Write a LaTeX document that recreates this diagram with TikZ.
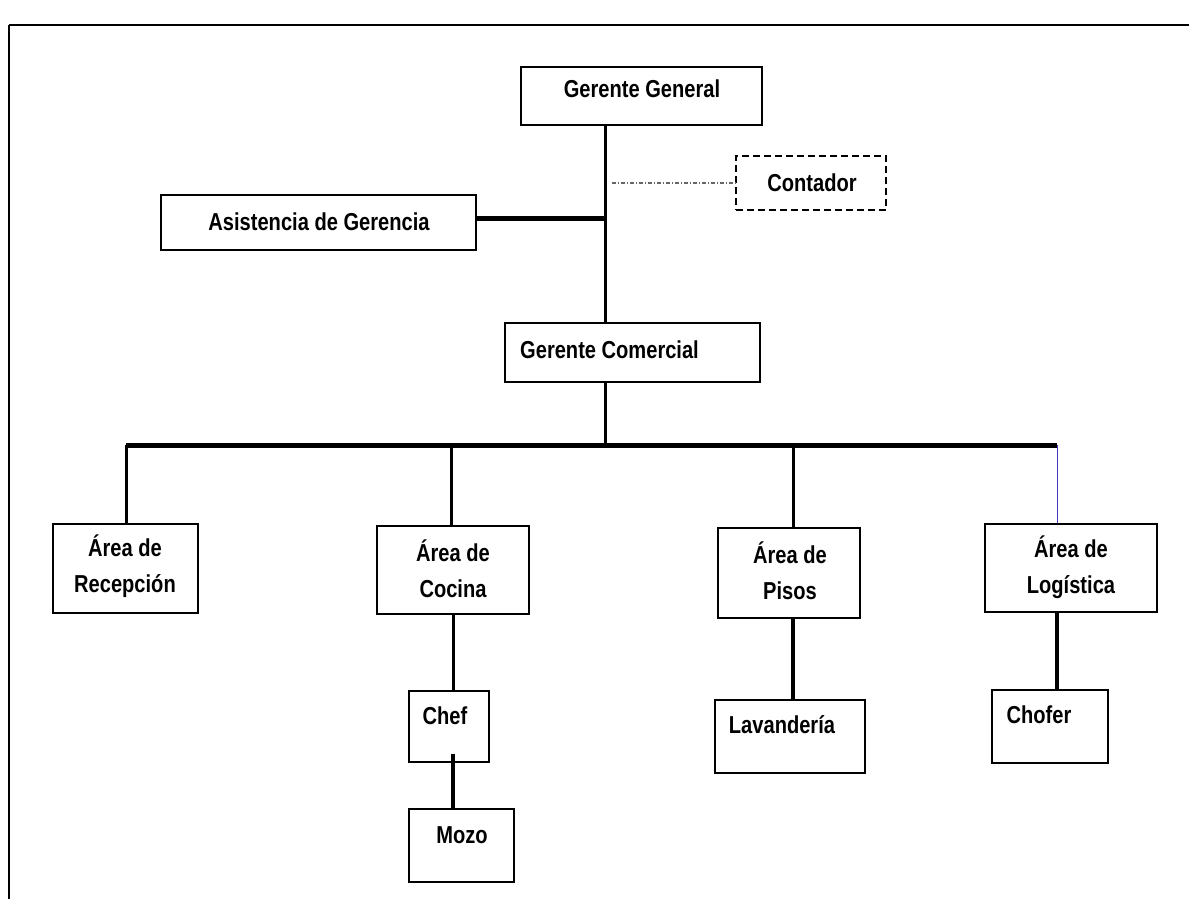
\documentclass[tikz,border=0pt]{standalone}
\usepackage{fontspec}
\setmainfont{Liberation Sans}[FakeStretch=0.82]
\begin{document}
\begin{tikzpicture}[x=1pt,y=-1pt,
  box/.style={draw=black,line width=1.6pt,rectangle,inner sep=0pt},
  dbox/.style={draw=black,line width=1.4pt,dash pattern=on 7pt off 4pt,rectangle,inner sep=0pt},
  txt/.style={font=\fontsize{24.5}{36}\selectfont\bfseries,inner sep=0pt,align=center},
  conn/.style={draw=black,line width=3pt},
  thick conn/.style={draw=black,line width=5pt},
  dd/.style={draw=gray!80!black,line width=1.2pt,dash pattern=on 4pt off 2pt on 1pt off 2pt},
  blue conn/.style={draw=blue!50!gray,line width=1pt}]
\useasboundingbox (0,0) rectangle (1189,899);
% frame
\draw[line width=2.5pt] (9,25) -- (1189,25);
\draw[line width=1.5pt] (9,25) -- (9,899);

% boxes
\node[box,minimum width=241pt,minimum height=58pt] (gg) at (641.5,96) {};
\node[dbox,minimum width=150pt,minimum height=54pt] (cont) at (811,183) {};
\node[box,minimum width=315pt,minimum height=55pt] (asis) at (318.5,222.5) {};
\node[box,minimum width=255pt,minimum height=59pt] (gc) at (632.5,352.5) {};
\node[box,minimum width=145pt,minimum height=89pt] (rec) at (125.5,568.5) {};
\node[box,minimum width=152pt,minimum height=88pt] (coc) at (453,570) {};
\node[box,minimum width=142pt,minimum height=90pt] (pis) at (789,573) {};
\node[box,minimum width=172pt,minimum height=88pt] (log) at (1071,568) {};
\node[box,minimum width=80pt,minimum height=71pt] (chef) at (449,726.5) {};
\node[box,minimum width=105pt,minimum height=73pt] (mozo) at (461.5,845.5) {};
\node[box,minimum width=150pt,minimum height=73pt] (lav) at (790,736.5) {};
\node[box,minimum width=116pt,minimum height=73pt] (chof) at (1050,726.5) {};

% texts
\node[txt] (tgg) at (642,89) {Gerente General};
\node[txt] (tcont) at (812,183) {Contador};
\node[txt] (tasis) at (319,222) {Asistencia de Gerencia};
\node[txt,anchor=west] (tgc) at (520,350) {Gerente Comercial};
\node[txt] (trec) at (125,566) {Área de\\Recepción};
\node[txt] (tcoc) at (453,569) {Área de\\Cocina};
\node[txt] (tpis) at (790,571) {Área de\\Pisos};
\node[txt] (tlog) at (1071,567) {Área de\\Logística};
\node[txt] (tchef) at (445,716) {Chef};
\node[txt] (tmozo) at (462,835) {Mozo};
\node[txt] (tlav) at (782,725) {Lavandería};
\node[txt] (tchof) at (1039,715) {Chofer};

% connector coordinates
\coordinate (trunk) at (605,218);
\coordinate (barL) at (126,445);
\coordinate (barR) at (1057,445);
\coordinate (dcoc) at (451,445);
\coordinate (dpis) at (793,445);
\coordinate (cofs) at (612,183);
\coordinate (chefin) at (453,754);

% connectors
\draw[conn] (gg.south -| trunk) -- (gc.north -| trunk);
\draw[thick conn] (asis.east |- trunk) -- (trunk);
\draw[dd] (cofs) -- (cont.west);
\draw[conn] (gc.south -| trunk) -- (trunk |- barL);
\draw[thick conn] (barL) -- (barR);
\draw[conn] (barL) -- (rec.north -| barL);
\draw[conn] (dcoc) -- (coc.north -| dcoc);
\draw[conn] (dpis) -- (pis.north -| dpis);
\draw[blue conn] (barR) -- (log.north -| barR);
\draw[conn] (coc.south -| chefin) -- (chef.north -| chefin);
\draw[conn,line width=3.5pt] (chefin) -- (mozo.north -| chefin);
\draw[conn,line width=4pt] (pis.south -| dpis) -- (lav.north -| dpis);
\draw[conn,line width=4pt] (log.south -| barR) -- (chof.north -| barR);
\end{tikzpicture}
\end{document}
